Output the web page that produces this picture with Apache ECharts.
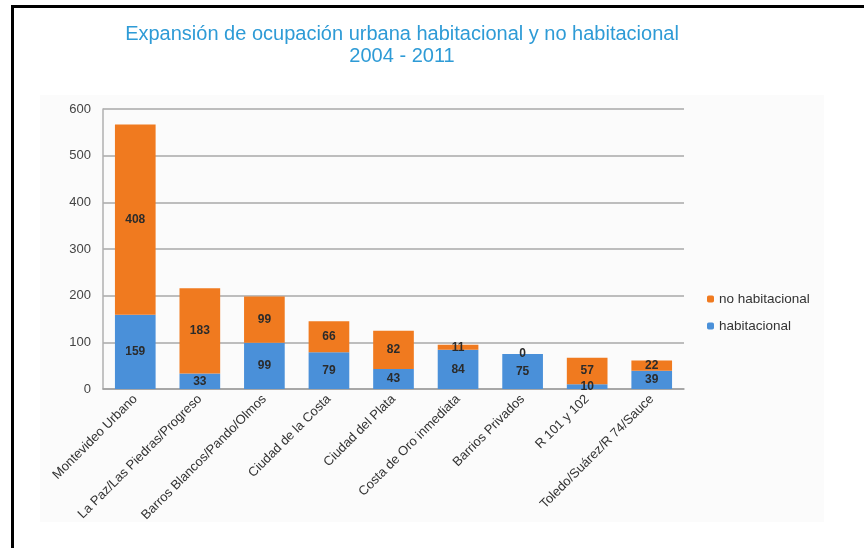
<!DOCTYPE html>
<html>
<head>
<meta charset="utf-8">
<script src="https://cdn.jsdelivr.net/npm/echarts@6/dist/echarts.min.js"></script>
<style>html,body{margin:0;padding:0;background:#fff;}#c{width:864px;height:548px;}</style>
</head>
<body>
<div id="c"></div>
<script>
const categories = ["Montevideo Urbano","La Paz/Las Piedras/Progreso","Barros Blancos/Pando/Olmos","Ciudad de la Costa","Ciudad del Plata","Costa de Oro inmediata","Barrios Privados","R 101 y 102","Toledo/Suárez/R 74/Sauce"];
const habitacional = [159, 33, 99, 79, 43, 84, 75, 10, 39];
const noHabitacional = [408, 183, 99, 66, 82, 11, 0, 57, 22];
const yTicks = {min: 0, max: 600, interval: 100};

const chart = echarts.init(document.getElementById('c'));
const FONT = 'Liberation Sans, Arial, sans-serif';
const labelStyle = {show: true, position: 'inside', color: '#2b2b2b', fontSize: 12, fontWeight: 'bold', fontFamily: FONT};
chart.setOption({
  backgroundColor: '#ffffff',
  animation: false,
  title: {
    text: 'Expansión de ocupación urbana habitacional y no habitacional\n2004 - 2011',
    left: 397, top: 18, textAlign: 'center',
    textStyle: {color: '#2E9BD6', fontSize: 20, fontWeight: 'normal', fontFamily: FONT, lineHeight: 22}
  },
  graphic: [
    {type: 'rect', z: -10, shape: {x: 40, y: 95, width: 784, height: 427}, style: {fill: '#fbfbfb'}},
    {type: 'line', shape: {x1: 12.5, y1: 5, x2: 12.5, y2: 548}, style: {stroke: '#000', lineWidth: 3}},
    {type: 'line', shape: {x1: 11, y1: 6.5, x2: 864, y2: 6.5}, style: {stroke: '#000', lineWidth: 3}}
  ],
  legend: {
    orient: 'vertical', left: 707, top: 292, padding: 0, itemWidth: 7, itemHeight: 7, itemGap: 13,
    data: ['no habitacional', 'habitacional'],
    textStyle: {color: '#333', fontSize: 13.5, fontFamily: FONT}
  },
  grid: {left: 103, right: 180, top: 109, bottom: 159},
  xAxis: {
    type: 'category', data: categories,
    axisLine: {lineStyle: {color: '#a0a0a0', width: 1.5}},
    axisTick: {show: false},
    axisLabel: {rotate: 45, interval: 0, color: '#333', fontSize: 13, margin: 8, fontFamily: FONT}
  },
  yAxis: {
    type: 'value', min: yTicks.min, max: yTicks.max, interval: yTicks.interval,
    axisLine: {show: true, lineStyle: {color: '#b0b0b0', width: 1.5}},
    axisTick: {show: false},
    axisLabel: {color: '#444', fontSize: 13, margin: 12, fontFamily: FONT},
    splitLine: {lineStyle: {color: '#a8a8a8', width: 1.5}}
  },
  series: [
    {name: 'habitacional', type: 'bar', stack: 't', data: habitacional, barWidth: '63%',
     itemStyle: {color: '#4A90D9'}, label: labelStyle},
    {name: 'no habitacional', type: 'bar', stack: 't', data: noHabitacional, barWidth: '63%',
     itemStyle: {color: '#F07A1F'}, label: labelStyle}
  ]
});
</script>
</body>
</html>
